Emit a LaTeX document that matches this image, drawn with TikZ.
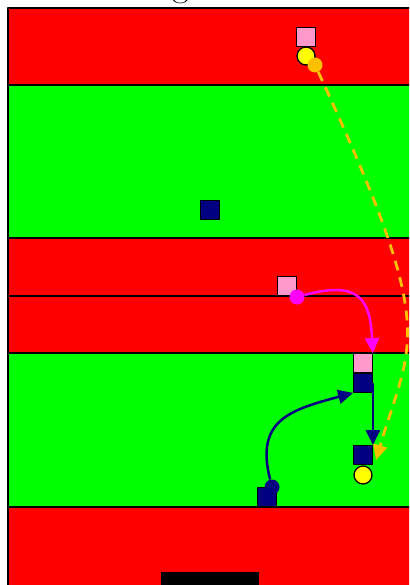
\documentclass[tikz,border=0pt]{standalone}
\usepackage{tikz}
\usetikzlibrary{calc, positioning, arrows.meta}

\definecolor{fieldred}{RGB}{255,0,0}
\definecolor{fieldgreen}{RGB}{0,255,0}
\definecolor{playerpink}{RGB}{255,153,204}
\definecolor{playernavy}{RGB}{0,0,128}
\definecolor{ballyellow}{RGB}{255,255,0}
\definecolor{runorange}{RGB}{255,192,0}
\definecolor{runmagenta}{RGB}{255,0,255}

\tikzset{
  pinkbox/.style={draw=black, line width=1.3pt, fill=playerpink, minimum size=18.5pt, inner sep=0pt},
  navybox/.style={draw=black, line width=1.3pt, fill=playernavy, minimum size=18.5pt, inner sep=0pt},
  ballnode/.style={circle, draw=black, line width=1.3pt, fill=ballyellow, minimum size=18pt, inner sep=0pt},
  dotnode/.style={circle, minimum size=15pt, inner sep=0pt},
  runline/.style={line width=2.5pt, -{Triangle[length=15pt, width=14pt]}},
}

\begin{document}
\begin{tikzpicture}[x=1pt, y=-1pt, line join=round]

        \useasboundingbox (0,0) rectangle (409,585);
        \clip (0,0) rectangle (409,585);

        % =========================
        % FIELD BANDS
        % =========================
        \fill[white] (0,0) rectangle (409,585);
        \fill[fieldred]   (8,8)   rectangle (430,85);
        \fill[fieldgreen] (8,85)  rectangle (430,238);
        \fill[fieldred]   (8,238) rectangle (430,353);
        \fill[fieldgreen] (8,353) rectangle (430,507);
        \fill[fieldred]   (8,507) rectangle (430,600);

        % Border and band lines
        \draw[line width=1.5pt]
            (430,8) -- (8,8) -- (8,600);

        \draw[line width=1.5pt]
            (8,85) -- (430,85);

        \draw[line width=1.5pt]
            (8,238) -- (430,238);

        \draw[line width=1.5pt]
            (8,296) -- (430,296);

        \draw[line width=1.5pt]
            (8,353) -- (430,353);

        \draw[line width=1.5pt]
            (8,507) -- (430,507);

        % Goal bar
        \fill[black] (161,572) rectangle (259,600);

        % Title (cut off at the top edge)
        \node[anchor=base, inner sep=0pt, font=\fontsize{36}{40}\selectfont] (title) at (181,-3) {g};

        % =========================
        % PLAYERS
        % =========================
        \node[pinkbox]  (topPink)  at (306,37)  {};
        \node[ballnode] (topBall)  at (306,56)  {};
        \node[dotnode, fill=runorange] (orangeDot) at (315,65) {};

        \node[navybox]  (midNavy)  at (210,210) {};

        \node[pinkbox]  (midPink)  at (287,286) {};
        \node[dotnode, fill=runmagenta] (magentaDot) at (297,297) {};

        \node[pinkbox]  (rightPink)  at (363,363) {};
        \node[navybox]  (rightNavy)  at (363,383) {};
        \node[navybox]  (lowNavy)    at (363,455) {};
        \node[ballnode] (lowBall)    at (363,475) {};

        \node[navybox]  (botNavy)  at (267,497) {};
        \node[dotnode, fill=playernavy] (navyDot) at (272,487) {};

        % =========================
        % RUNS
        % =========================
        \coordinate (orangeEnd) at (376,460);

        \draw[runline, runorange, line width=2.8pt, dash pattern=on 10pt off 7pt]
            (orangeDot) .. controls (440,335) and (412,338) .. (orangeEnd);

        \draw[runline, runmagenta]
            (magentaDot) .. controls (360,280) and (370,300) .. (rightPink.north east);

        \draw[runline, playernavy]
            (navyDot) .. controls (255,420) and (290,410) .. (rightNavy.south west);

        \draw[runline, playernavy]
            (rightNavy.east) -- (rightNavy.east |- lowNavy.north);

    \end{tikzpicture}
\end{document}
